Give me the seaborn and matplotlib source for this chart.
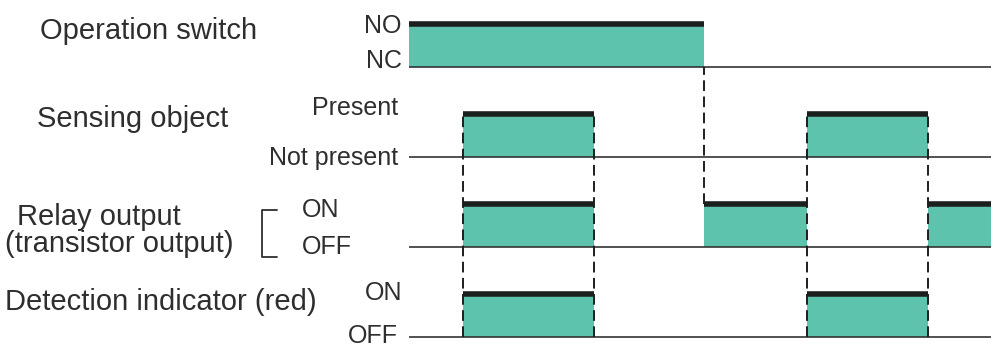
import matplotlib
matplotlib.use("Agg")
import matplotlib.pyplot as plt
import seaborn as sns
import pandas as pd

# ---------------- data (time in arbitrary units, 0..100) ----------------
t_end = 100.0
switch_no_until = 50.7                      # Operation switch NO until this time, then NC
sensing_start = [9.3, 68.4]                 # Sensing object present
sensing_end = [31.8, 89.2]
relay_start = [9.3, 50.7, 89.2]             # Relay output ON
relay_end = [31.8, 68.4, 100.0]
detect_start = [9.3, 68.4]                  # Detection indicator ON
detect_end = [31.8, 89.2]

row_titles = ["Operation switch", "Sensing object", "Relay output\n(transistor output)",
              "Detection indicator (red)"]
state_hi = ["NO", "Present", "ON", "ON"]
state_lo = ["NC", "Not present", "OFF", "OFF"]

# ---------------- style ----------------
sns.set_theme(style="white")
plt.rcParams["font.family"] = ["Liberation Sans", "DejaVu Sans"]
TEAL = "#5ec3ad"
BLACK = "#1b1f1e"
GREY = "#333333"
TXT = "#2e2e2e"

W, H = 991, 354
fig = plt.figure(figsize=(W / 100, H / 100), dpi=100)
ax = fig.add_axes([0, 0, 1, 1])
ax.set_axis_off()

# x: t=0 at pixel 409, t=100 at pixel 991
px_per_t = (991 - 409) / 100.0
ax.set_xlim(-409 / px_per_t, t_end)
# y: one level unit = 43 px, rows spaced 90 px, row-0 baseline at pixel 67
unit = 43.0
row_gap = 90.0 / unit
ax.set_ylim(-(H - 67) / unit, 67 / unit)

def base(r):
    return -r * row_gap

signals = [
    ([0.0], [switch_no_until]),
    (sensing_start, sensing_end),
    (relay_start, relay_end),
    (detect_start, detect_end),
]

# baselines
for r in range(4):
    ax.hlines(base(r), 0, t_end, color=GREY, lw=1.2, zorder=2)

# fills and top lines
rows = []
seg = 0
for r, (starts, ends) in enumerate(signals):
    for s, e in zip(starts, ends):
        ax.fill_between([s, e], base(r), base(r) + 1, color=TEAL, lw=0, zorder=1)
        rows.append({"t": s, "y": base(r) + 1, "seg": seg})
        rows.append({"t": e, "y": base(r) + 1, "seg": seg})
        seg += 1
df = pd.DataFrame(rows)
sns.lineplot(data=df, x="t", y="y", units="seg", estimator=None, sort=False,
             color=BLACK, lw=4.0, ax=ax, legend=False, zorder=3,
             solid_capstyle="butt")
ax.set_axis_off()

# dashed timing guides
dash = (0, (5.5, 2.8))
ax.vlines(switch_no_until, base(2) + 1, base(0), color=BLACK, lw=1.4,
          linestyles=[dash], zorder=4)
for t in sensing_start + sensing_end:
    ax.vlines(t, base(3), base(1) + 1, color=BLACK, lw=1.4,
              linestyles=[dash], zorder=4)

# ---------------- labels (figure pixel coordinates, y from top) ----------------
def ftext(x, y, s, size, ha="left"):
    fig.text(x / W, 1 - y / H, s, fontsize=size, ha=ha, va="baseline", color=TXT)

BIG = 21
SMALL = 18

ftext(40, 39, row_titles[0], BIG)
ftext(37, 127, row_titles[1], BIG)
rel1, rel2 = row_titles[2].split("\n")
ftext(17, 225, rel1, BIG)
ftext(5, 252, rel2, BIG)
ftext(5, 310, row_titles[3], BIG)

ftext(402, 33, state_hi[0], SMALL, "right")
ftext(402, 68, state_lo[0], SMALL, "right")
ftext(398, 115, state_hi[1], SMALL, "right")
ftext(398, 165, state_lo[1], SMALL, "right")
ftext(302, 217, state_hi[2], SMALL)
ftext(302, 254, state_lo[2], SMALL)
ftext(402, 300, state_hi[3], SMALL, "right")
ftext(398, 343, state_lo[3], SMALL, "right")

# bracket for relay output
bx0, bx1, by0, by1 = 262, 277, 210, 257
fig.add_artist(plt.Line2D([bx1 / W, bx0 / W, bx0 / W, bx1 / W],
                          [1 - by0 / H, 1 - by0 / H, 1 - by1 / H, 1 - by1 / H],
                          color=TXT, lw=1.3))

fig.savefig("out.png", dpi=100)
